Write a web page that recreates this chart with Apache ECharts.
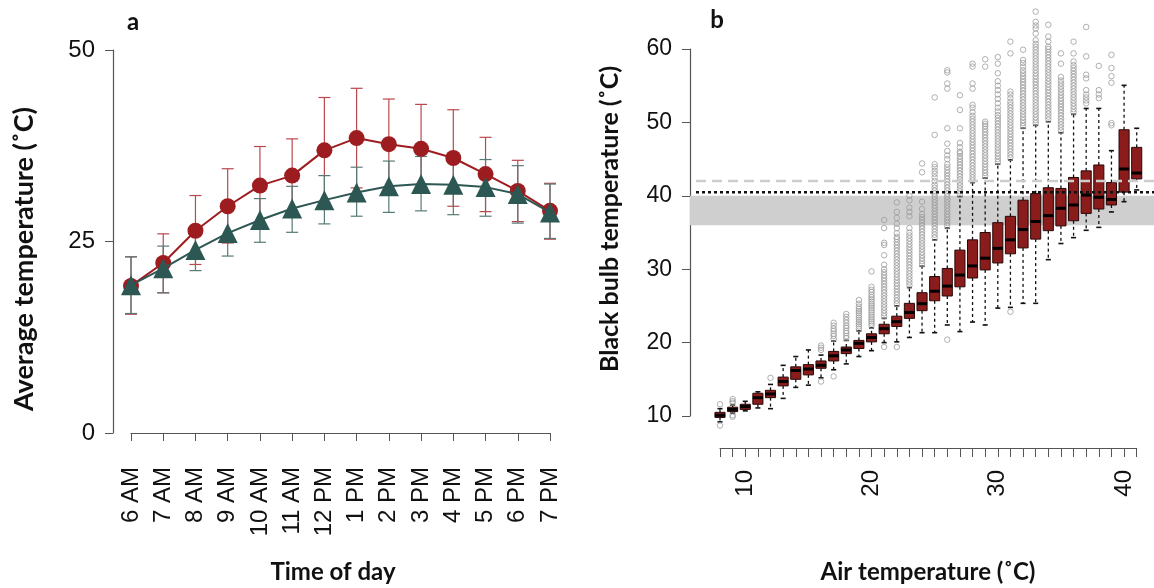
<!DOCTYPE html>
<html><head><meta charset="utf-8">
<script src="https://cdn.jsdelivr.net/npm/echarts@6/dist/echarts.min.js"></script>
<style>html,body{margin:0;padding:0;background:#fff}#c{width:1154px;height:588px}</style>
</head><body><div id="c"></div>
<script>
// ---------- Panel a data ----------
const times = ['6 AM','7 AM','8 AM','9 AM','10 AM','11 AM','12 PM','1 PM','2 PM','3 PM','4 PM','5 PM','6 PM','7 PM'];
const bulbMean  = [19.2, 22.2, 26.4, 29.6, 32.3, 33.6, 36.9, 38.5, 37.7, 37.1, 35.9, 33.8, 31.6, 29.0];
const bulbUpper = [23.0, 26.0, 31.0, 34.5, 37.4, 38.4, 43.8, 45.0, 43.6, 42.9, 42.2, 38.6, 35.6, 32.6];
const bulbLower = [15.5, 18.3, 22.0, 24.8, 27.2, 28.8, 30.1, 32.0, 31.8, 31.3, 29.6, 28.9, 27.6, 25.3];
const airMean   = [19.3, 21.5, 23.9, 26.1, 27.8, 29.3, 30.4, 31.4, 32.2, 32.5, 32.4, 32.1, 31.2, 28.8];
const airUpper  = [23.0, 24.4, 26.7, 29.1, 30.6, 32.2, 33.6, 34.7, 35.5, 36.1, 36.2, 35.7, 34.9, 32.5];
const airLower  = [15.6, 18.3, 21.2, 23.1, 24.9, 26.2, 27.3, 28.3, 28.8, 29.0, 28.5, 28.3, 27.4, 25.4];
const tempTicksA = [0, 25, 50];

// ---------- Panel b data ----------
const airTemp     = [8, 9, 10, 11, 12, 13, 14, 15, 16, 17, 18, 19, 20, 21, 22, 23, 24, 25, 26, 27, 28, 29, 30, 31, 32, 33, 34, 35, 36, 37, 38, 39, 40, 41];
const whiskerLow  = [9.2, 10.4, 10.7, 11.1, 11.0, 12.4, 13.9, 14.2, 15.2, 16.3, 17.1, 18.1, 18.9, 20.0, 20.1, 20.7, 21.35, 21.35, 22.4, 21.5, 22.8, 22.4, 24.7, 24.8, 25.35, 25.35, 31.3, 33.5, 34.3, 35.3, 35.7, 37.8, 39.2, 40.8];
const boxQ1       = [9.8, 10.6, 10.9, 11.6, 12.5, 14.1, 15.0, 15.6, 16.5, 17.5, 18.5, 19.2, 20.1, 21.2, 22.2, 23.3, 24.35, 25.7, 26.35, 27.6, 28.8, 29.9, 30.85, 32.1, 32.9, 34.1, 35.25, 35.9, 36.6, 37.6, 38.2, 38.75, 40.5, 42.3];
const boxMedian   = [10.1, 10.9, 11.3, 12.5, 13.0, 14.7, 16.2, 16.4, 16.9, 18.2, 19.0, 19.9, 20.7, 21.9, 22.85, 24.1, 25.3, 27.0, 27.7, 29.2, 30.45, 31.5, 32.84, 34.0, 35.4, 36.5, 37.3, 38.3, 38.75, 40.1, 39.8, 39.5, 43.65, 43.1];
const boxQ3       = [10.5, 11.2, 11.6, 13.1, 13.5, 15.3, 16.7, 17.0, 17.5, 18.8, 19.4, 20.3, 21.2, 22.5, 23.6, 25.35, 26.8, 29.0, 30.1, 32.6, 34.0, 35.0, 36.34, 37.2, 39.4, 40.3, 41.1, 41.0, 42.5, 43.4, 44.2, 41.8, 49.0, 46.6];
const whiskerHigh = [11.0, 11.5, 12.0, 13.3, 14.3, 16.9, 18.1, 19.0, 18.3, 20.2, 20.3, 21.6, 22.0, 23.3, 25.0, 27.5, 30.4, 34.0, 35.6, 39.9, 41.8, 42.4, 44.3, 44.9, 49.2, 49.6, 50.1, 48.6, 51.1, 51.9, 51.9, 46.15, 55.05, 49.2];
const outliers = [
  [11.6, 8.7],
  [12.3, 12.0, 11.8, 10.1, 9.9],
  [],
  [],
  [15.2],
  [],
  [],
  [],
  [19.0, 19.3, 19.6, 14.7],
  [20.5, 20.9, 21.2, 21.6, 21.9, 22.3, 22.7, 15.4],
  [20.6, 20.9, 21.3, 21.6, 22.0, 22.3, 22.7, 23.1, 23.5, 23.9],
  [21.9, 22.2, 22.5, 22.8, 23.1, 23.4, 23.7, 24.0, 24.3, 24.6, 24.9, 25.3, 25.8],
  [22.3, 22.6, 22.9, 23.2, 23.5, 23.8, 24.1, 24.4, 24.7, 25.0, 25.3, 25.6, 25.9, 26.2, 26.5, 26.9, 27.2, 27.6, 29.7],
  [19.4, 23.6, 24.0, 24.4, 24.8, 25.2, 25.6, 26.0, 26.4, 26.8, 27.2, 27.6, 28.0, 28.4, 28.8, 29.2, 29.6, 30.0, 30.6, 31.9, 33.3, 33.6, 35.6, 36.7],
  [19.4, 25.3, 25.7, 26.1, 26.5, 26.9, 27.3, 27.7, 28.1, 28.5, 28.9, 29.3, 29.7, 30.1, 30.5, 30.9, 31.3, 31.7, 32.1, 32.5, 32.9, 33.3, 33.7, 34.1, 34.4, 34.9, 35.6, 36.2, 37.0, 37.8, 39.1],
  [27.8, 28.2, 28.6, 29.0, 29.4, 29.8, 30.2, 30.6, 31.0, 31.4, 31.8, 32.2, 32.6, 33.0, 33.4, 33.8, 34.2, 34.6, 35.0, 35.6, 37.2, 37.8, 38.4, 39.4, 40.0],
  [30.7, 31.1, 31.5, 31.9, 32.3, 32.7, 33.1, 33.5, 33.9, 34.3, 34.7, 35.1, 35.5, 35.9, 36.3, 36.7, 37.1, 37.5, 38.2, 39.2, 43.2, 44.4],
  [34.3, 34.7, 35.1, 35.5, 35.9, 36.3, 36.7, 37.1, 37.5, 37.9, 38.3, 38.7, 39.1, 39.5, 39.9, 40.3, 40.7, 41.1, 41.5, 42.0, 42.5, 43.0, 43.4, 43.9, 44.3, 48.3, 53.4],
  [20.4, 35.9, 36.3, 36.7, 37.1, 37.5, 37.9, 38.3, 38.7, 39.1, 39.5, 39.9, 40.3, 40.7, 41.1, 41.5, 41.9, 42.3, 42.7, 43.1, 43.5, 43.9, 44.3, 45.0, 45.5, 46.1, 47.1, 49.2, 54.6, 55.3, 56.8, 57.1],
  [40.2, 40.6, 41.0, 41.4, 41.8, 42.2, 42.6, 43.0, 43.4, 43.8, 44.2, 44.6, 45.0, 45.4, 45.8, 46.0, 46.6, 47.2, 49.2, 51.7, 53.7],
  [42.1, 42.5, 42.9, 43.3, 43.7, 44.1, 44.5, 44.9, 45.3, 45.7, 46.1, 46.5, 46.9, 47.3, 47.7, 48.1, 48.5, 48.9, 49.3, 49.7, 50.1, 50.5, 50.9, 51.4, 52.0, 52.4, 54.6, 55.3, 57.6, 58.0],
  [42.7, 43.1, 43.5, 43.9, 44.3, 44.7, 45.1, 45.5, 45.9, 46.3, 46.7, 47.1, 47.5, 47.9, 48.3, 48.7, 49.1, 49.5, 49.8, 50.1, 57.6, 58.6],
  [44.6, 45.0, 45.4, 45.8, 46.2, 46.6, 47.0, 47.4, 47.8, 48.2, 48.6, 49.0, 49.4, 49.8, 50.2, 50.6, 51.0, 51.5, 52.0, 52.6, 53.2, 53.8, 54.4, 55.0, 55.6, 56.7, 58.0, 58.9],
  [24.2, 45.2, 45.6, 46.0, 46.4, 46.8, 47.2, 47.6, 48.0, 48.4, 48.8, 49.2, 49.6, 50.0, 50.4, 50.8, 51.2, 51.6, 52.0, 52.4, 52.8, 53.3, 53.8, 54.2, 59.4, 61.0],
  [49.5, 49.9, 50.3, 50.7, 51.1, 51.5, 51.9, 52.3, 52.7, 53.1, 53.5, 53.9, 54.3, 54.7, 55.1, 55.5, 55.9, 56.3, 56.7, 57.1, 57.6, 58.1, 58.5, 59.9],
  [49.9, 50.3, 50.7, 51.1, 51.5, 51.9, 52.3, 52.7, 53.1, 53.5, 53.9, 54.3, 54.7, 55.1, 55.5, 55.9, 56.3, 56.7, 57.1, 57.5, 57.9, 58.3, 58.7, 59.1, 59.5, 59.9, 60.3, 60.7, 61.2, 62.1, 62.8, 63.2, 63.7, 65.1],
  [50.4, 50.8, 51.2, 51.6, 52.0, 52.4, 52.8, 53.2, 53.6, 54.0, 54.4, 54.8, 55.2, 55.6, 56.0, 56.4, 56.8, 57.2, 57.6, 58.0, 58.4, 58.8, 59.2, 59.6, 60.0, 60.3, 61.0, 61.7, 63.3],
  [48.9, 49.3, 49.7, 50.1, 50.5, 50.9, 51.3, 51.7, 52.1, 52.5, 52.9, 53.3, 53.7, 54.1, 54.5, 54.9, 55.3, 55.7, 56.2, 58.0, 59.4],
  [51.4, 51.8, 52.2, 52.6, 53.0, 53.4, 53.8, 54.2, 54.6, 55.0, 55.4, 55.8, 56.2, 56.6, 57.0, 57.4, 57.8, 58.3, 59.4, 61.0],
  [52.6, 53.0, 53.4, 53.8, 54.4, 56.0, 56.5, 59.0, 63.0],
  [53.3, 53.8, 54.4, 57.7],
  [49.6, 49.9, 55.4, 56.3, 57.4, 59.2],
  [],
  []
];
const heatBandLow = 36;
const heatBandHigh = 40;
const dottedThreshold = 40.5;
const dashedThreshold = 42;
const xTickLabelsB = [10, 20, 30, 40];

// ---------- styling ----------
const RED = '#9d1c20', RED_ERR = '#b9484e', TEAL = '#2d5753', TEAL_ERR = '#587a76';
const BOX_FILL = '#8b1c1c';
const AXIS_COL = '#555';
const LABEL_FONT = 'Liberation Sans, Arial, sans-serif';
const TITLE_FONT = 'Lato, "Open Sans", sans-serif';
const Y_OFFSET_B = 30;

function errRender(color) {
  return function (params, api) {
    const i = api.value(0);
    const lo = api.coord([i, api.value(1)]);
    const hi = api.coord([i, api.value(2)]);
    const cw = 6;
    const st = { stroke: color, lineWidth: 1.2 };
    return { type: 'group', children: [
      { type: 'line', shape: { x1: lo[0], y1: lo[1], x2: hi[0], y2: hi[1] }, style: st },
      { type: 'line', shape: { x1: lo[0] - cw, y1: lo[1], x2: lo[0] + cw, y2: lo[1] }, style: st },
      { type: 'line', shape: { x1: hi[0] - cw, y1: hi[1], x2: hi[0] + cw, y2: hi[1] }, style: st }
    ]};
  };
}

function boxRender(params, api) {
  const x = api.value(0);
  const c = v => api.coord([x, v]);
  const pl = c(api.value(1)), p1 = c(api.value(2)), pm = c(api.value(3)), p3 = c(api.value(4)), ph = c(api.value(5));
  const w = api.size([0.8, 0])[0];
  const hw = w / 2, cap = hw * 0.5, cx = pm[0];
  const dash = { stroke: '#111', lineWidth: 1.3, lineDash: [3, 3] };
  const solid = { stroke: '#111', lineWidth: 1.6 };
  return { type: 'group', children: [
    { type: 'line', shape: { x1: cx, y1: p3[1], x2: cx, y2: ph[1] }, style: dash },
    { type: 'line', shape: { x1: cx, y1: p1[1], x2: cx, y2: pl[1] }, style: dash },
    { type: 'line', shape: { x1: cx - cap, y1: ph[1], x2: cx + cap, y2: ph[1] }, style: solid },
    { type: 'line', shape: { x1: cx - cap, y1: pl[1], x2: cx + cap, y2: pl[1] }, style: solid },
    { type: 'rect', shape: { x: cx - hw, y: p3[1], width: w, height: p1[1] - p3[1] }, style: { fill: BOX_FILL, stroke: '#2a0808', lineWidth: 1 } },
    { type: 'line', shape: { x1: cx - hw, y1: pm[1], x2: cx + hw, y2: pm[1] }, style: { stroke: '#000', lineWidth: 3 } }
  ]};
}

function bandRender(params, api) {
  const cs = params.coordSys;
  const top = api.coord([airTemp[0], api.value(0)])[1];
  const bot = api.coord([airTemp[0], api.value(1)])[1];
  return { type: 'rect', shape: { x: cs.x - Y_OFFSET_B, y: top, width: api.getWidth() - (cs.x - Y_OFFSET_B), height: bot - top },
    style: { fill: '#cfcfcf' } };
}
function hlineRender(params, api) {
  const cs = params.coordSys;
  const y = api.coord([airTemp[0], api.value(0)])[1];
  const kind = api.value(1);
  const style = kind === 0
    ? { stroke: '#111', lineWidth: 2.5, lineDash: [3, 3] }
    : { stroke: '#cdcdcd', lineWidth: 2.5, lineDash: [10, 6] };
  return { type: 'line', shape: { x1: cs.x - Y_OFFSET_B + 6, y1: y, x2: api.getWidth(), y2: y }, style };
}

const outlierPts = [];
airTemp.forEach((t, i) => outliers[i].forEach(v => outlierPts.push([t, v])));

const chart = echarts.init(document.getElementById('c'));
chart.setOption({
  animation: false,
  backgroundColor: '#fff',
  grid: [
    { left: 131, right: 604, top: 50, bottom: 155 },
    { left: 720, right: 17.3, top: 49, bottom: 172 }
  ],
  xAxis: [
    { type: 'category', gridIndex: 0, data: times, boundaryGap: false, offset: 17,
      axisLine: { lineStyle: { color: AXIS_COL, width: 1.2 } },
      axisTick: { alignWithLabel: true, length: 8, lineStyle: { color: AXIS_COL } },
      axisLabel: { rotate: 90, margin: 17, fontSize: 24, color: '#111', fontFamily: LABEL_FONT, interval: 0 },
      splitLine: { show: false } },
    { type: 'value', gridIndex: 1, min: 8, max: 41, interval: 1, offset: 32,
      axisLine: { lineStyle: { color: AXIS_COL, width: 1.2 } },
      axisTick: { length: 9, lineStyle: { color: AXIS_COL } },
      axisLabel: { rotate: 90, margin: 22, fontSize: 24, color: '#111', fontFamily: LABEL_FONT,
        formatter: v => xTickLabelsB.includes(v) ? String(v) : '' },
      splitLine: { show: false } }
  ],
  yAxis: [
    { type: 'value', gridIndex: 0, min: tempTicksA[0], max: tempTicksA[2], interval: 25, offset: 18,
      axisLine: { show: true, lineStyle: { color: AXIS_COL, width: 1.2 } },
      axisTick: { show: true, length: 8, lineStyle: { color: AXIS_COL } },
      axisLabel: { margin: 18, fontSize: 24, color: '#111', fontFamily: LABEL_FONT },
      splitLine: { show: false } },
    { type: 'value', gridIndex: 1, min: 10, max: 60, interval: 10, offset: Y_OFFSET_B,
      axisLine: { show: true, lineStyle: { color: AXIS_COL, width: 1.2 } },
      axisTick: { show: true, length: 8, lineStyle: { color: AXIS_COL } },
      axisLabel: { margin: 18, fontSize: 23, color: '#111', fontFamily: LABEL_FONT },
      splitLine: { show: false } }
  ],
  series: [
    { type: 'custom', xAxisIndex: 0, yAxisIndex: 0, renderItem: errRender(RED_ERR), z: 2,
      encode: { x: 0, y: [1, 2] }, data: times.map((t, i) => [i, bulbLower[i], bulbUpper[i]]) },
    { type: 'custom', xAxisIndex: 0, yAxisIndex: 0, renderItem: errRender(TEAL_ERR), z: 2,
      encode: { x: 0, y: [1, 2] }, data: times.map((t, i) => [i, airLower[i], airUpper[i]]) },
    { type: 'line', xAxisIndex: 0, yAxisIndex: 0, data: bulbMean, symbol: 'circle', symbolSize: 16, z: 3,
      lineStyle: { color: RED, width: 2 }, itemStyle: { color: RED } },
    { type: 'line', xAxisIndex: 0, yAxisIndex: 0, data: airMean, symbol: 'triangle', symbolSize: 20, z: 4,
      lineStyle: { color: TEAL, width: 2 }, itemStyle: { color: TEAL } },

    { type: 'custom', xAxisIndex: 1, yAxisIndex: 1, renderItem: bandRender, z: 1,
      encode: { y: [0, 1] }, data: [[heatBandHigh, heatBandLow]] },
    { type: 'custom', xAxisIndex: 1, yAxisIndex: 1, renderItem: boxRender, z: 2,
      encode: { x: 0, y: [1, 2, 3, 4, 5] },
      data: airTemp.map((t, i) => [t, whiskerLow[i], boxQ1[i], boxMedian[i], boxQ3[i], whiskerHigh[i]]) },
    { type: 'scatter', xAxisIndex: 1, yAxisIndex: 1, data: outlierPts, symbol: 'circle', symbolSize: 5.5, z: 3, clip: false,
      itemStyle: { color: 'rgba(255,255,255,0)', borderColor: '#9c9c9c', borderWidth: 1 } },
    { type: 'custom', xAxisIndex: 1, yAxisIndex: 1, renderItem: hlineRender, z: 5,
      encode: { y: 0 }, data: [[dottedThreshold, 0], [dashedThreshold, 1]] }
  ],
  graphic: [
    { type: 'text', x: 24, y: 259, rotation: Math.PI / 2, style: { text: 'Average temperature (˚C)', font: 'bold 27px ' + TITLE_FONT, fill: '#111', align: 'center', verticalAlign: 'middle', textAlign: 'center', textVerticalAlign: 'middle' } },
    { type: 'text', x: 610, y: 219, rotation: Math.PI / 2, style: { text: 'Black bulb temperature (˚C)', font: 'bold 25px ' + TITLE_FONT, fill: '#111', align: 'center', verticalAlign: 'middle', textAlign: 'center', textVerticalAlign: 'middle' } },
    { type: 'text', x: 333, y: 572, style: { text: 'Time of day', font: 'bold 24px ' + TITLE_FONT, fill: '#111', align: 'center', verticalAlign: 'middle', textAlign: 'center', textVerticalAlign: 'middle' } },
    { type: 'text', x: 928, y: 572, style: { text: 'Air temperature (˚C)', font: 'bold 24px ' + TITLE_FONT, fill: '#111', align: 'center', verticalAlign: 'middle', textAlign: 'center', textVerticalAlign: 'middle' } },
    { type: 'text', x: 133, y: 22, style: { text: 'a', font: 'bold 24px ' + TITLE_FONT, fill: '#111', align: 'center', verticalAlign: 'middle', textAlign: 'center', textVerticalAlign: 'middle' } },
    { type: 'text', x: 717, y: 20, style: { text: 'b', font: 'bold 24px ' + TITLE_FONT, fill: '#111', align: 'center', verticalAlign: 'middle', textAlign: 'center', textVerticalAlign: 'middle' } }
  ]
});
</script>
</body></html>
